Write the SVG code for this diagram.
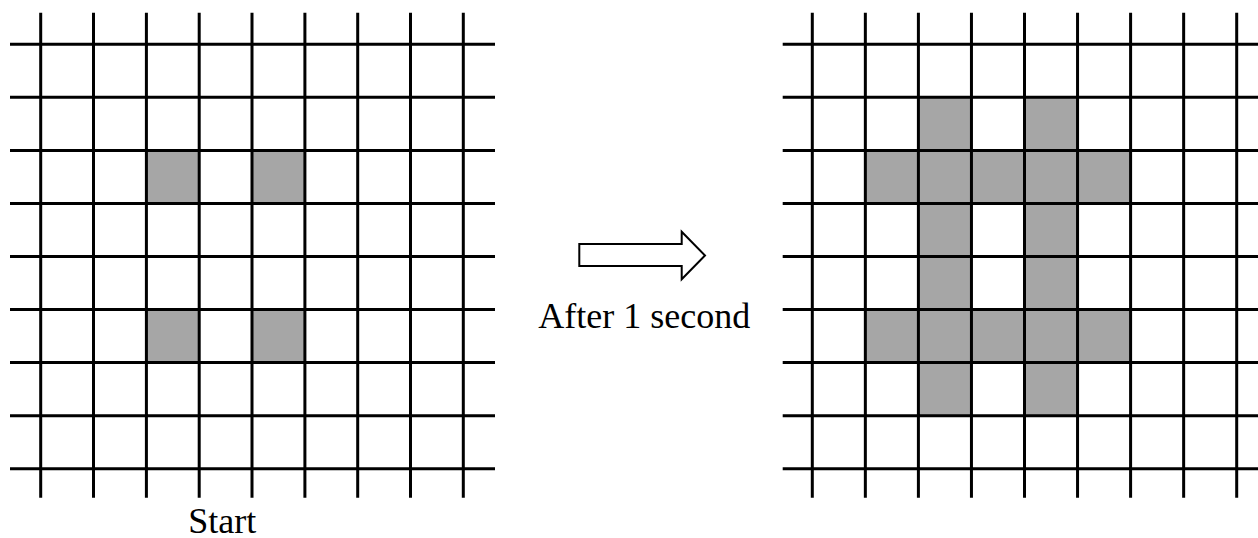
<svg xmlns="http://www.w3.org/2000/svg" width="1258" height="538" viewBox="0 0 1258 538">
  <style>
    .grid { stroke: #000; stroke-width: 3; fill: none; }
    .cell { fill: #a6a6a6; stroke: none; }
    .label { font-family: "Liberation Serif", "Times New Roman", serif; font-size: 36px; fill: #000; }
    .arrow { fill: #fff; stroke: #000; stroke-width: 2; stroke-linejoin: miter; }
  </style>

  <rect width="1258" height="538" fill="#fff"/>

  <!-- Initial state: four live cells -->
  <g id="grid-start">
    <rect class="cell" x="146.4" y="150.4" width="52.8" height="53.05"/>
    <rect class="cell" x="252.0" y="150.4" width="52.9" height="53.05"/>
    <rect class="cell" x="146.4" y="309.55" width="52.8" height="53.05"/>
    <rect class="cell" x="252.0" y="309.55" width="52.9" height="53.05"/>
    <path class="grid" d="
      M40.7 12.7V497.7 M93.5 12.7V497.7 M146.4 12.7V497.7 M199.2 12.7V497.7
      M252.0 12.7V497.7 M304.9 12.7V497.7 M357.7 12.7V497.7 M410.5 12.7V497.7
      M463.3 12.7V497.7
      M10 44.3H495 M10 97.35H495 M10 150.4H495 M10 203.45H495 M10 256.5H495
      M10 309.55H495 M10 362.6H495 M10 415.65H495 M10 468.7H495"/>
  </g>

  <!-- State after one step -->
  <g id="grid-next">
    <rect class="cell" x="918.4" y="97.35" width="53.05" height="318.3"/>
    <rect class="cell" x="1024.5" y="97.35" width="53.05" height="318.3"/>
    <rect class="cell" x="865.35" y="150.4" width="265.25" height="53.05"/>
    <rect class="cell" x="865.35" y="309.55" width="265.25" height="53.05"/>
    <path class="grid" d="
      M812.3 12.7V497.7 M865.35 12.7V497.7 M918.4 12.7V497.7 M971.45 12.7V497.7
      M1024.5 12.7V497.7 M1077.55 12.7V497.7 M1130.6 12.7V497.7 M1183.65 12.7V497.7
      M1236.7 12.7V497.7
      M782.7 44.3H1270 M782.7 97.35H1270 M782.7 150.4H1270 M782.7 203.45H1270 M782.7 256.5H1270
      M782.7 309.55H1270 M782.7 362.6H1270 M782.7 415.65H1270 M782.7 468.7H1270"/>
  </g>

  <!-- Block arrow between the two states -->
  <g id="connectors">
    <polygon class="arrow" points="579.3,244 681.7,244 681.7,231.7 705,255.5 681.7,279.3 681.7,266 579.3,266"/>
  </g>

  <g id="labels">
    <text class="label" x="538.3" y="328.3">After 1 second</text>
    <text class="label" x="188.3" y="533.3">Start</text>
  </g>
</svg>
